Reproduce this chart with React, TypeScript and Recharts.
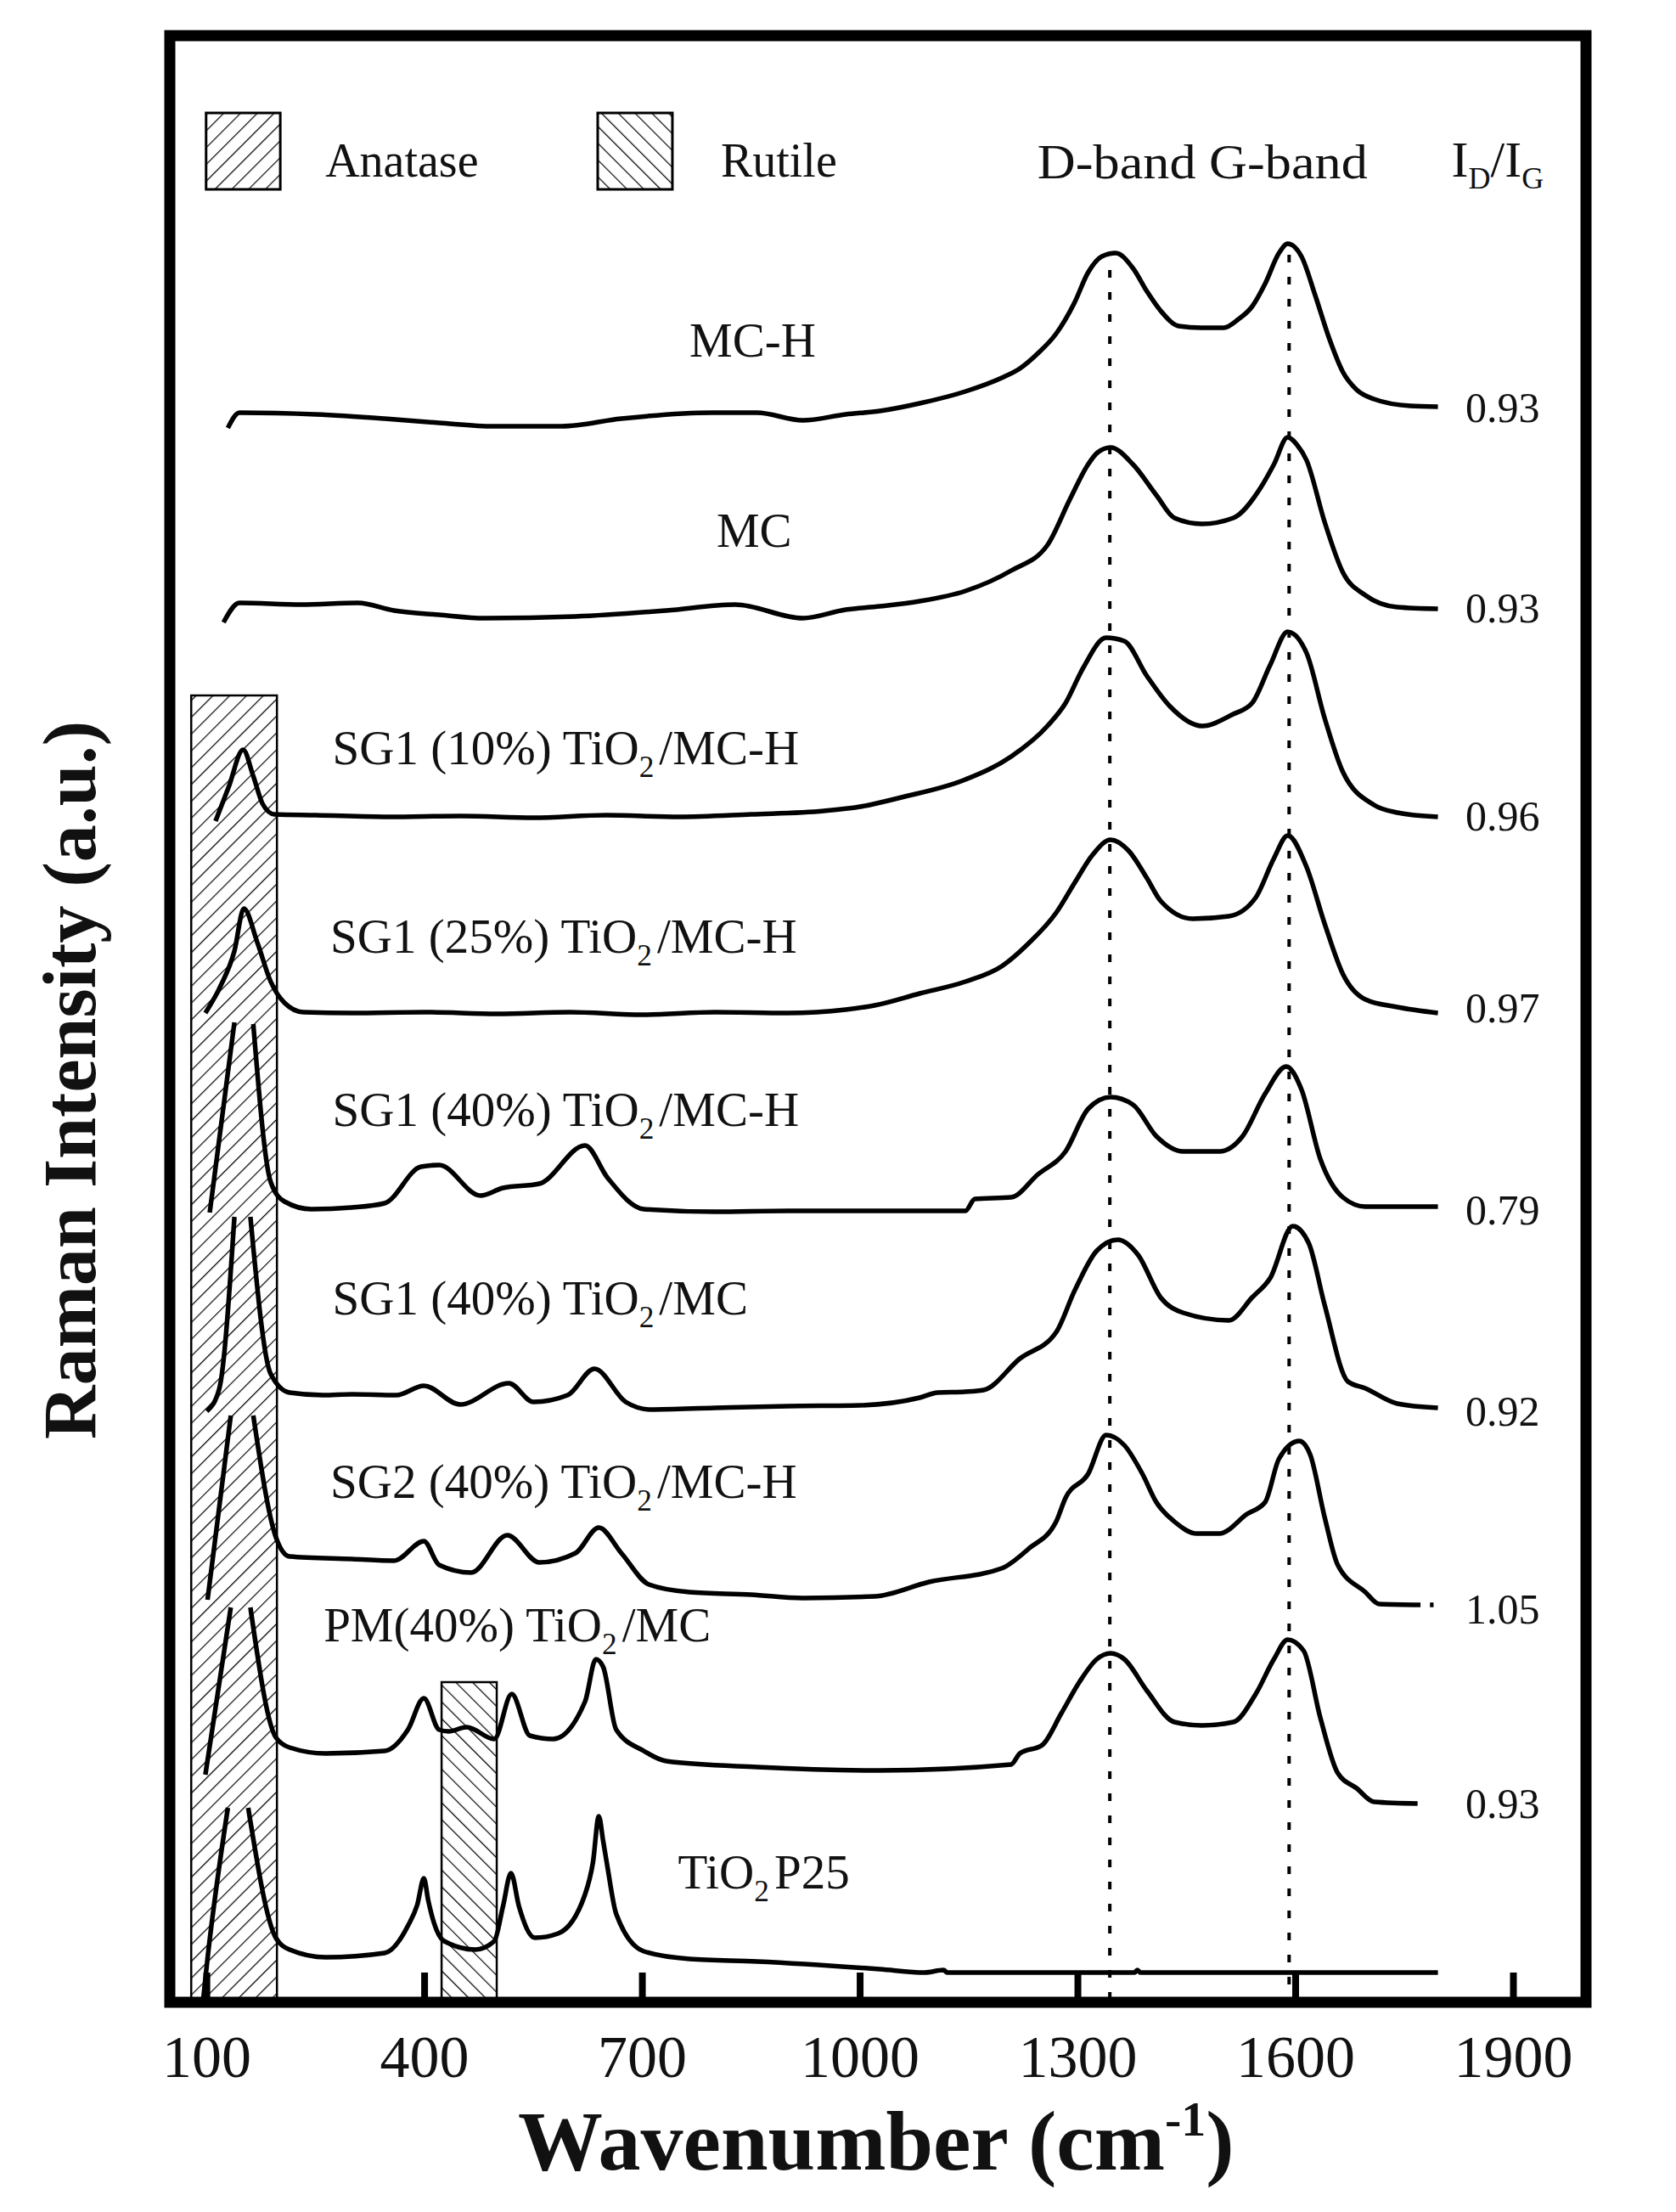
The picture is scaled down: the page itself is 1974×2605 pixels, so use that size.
import {
    LineChart,
    Line,
    XAxis,
    YAxis,
    ReferenceArea,
    ReferenceLine,
    ReferenceDot,
} from 'recharts';

type Pair = [number, number | null];

// wavenumber (cm-1), intensity (a.u., spectra stacked with offsets)
const X_TICKS = [100, 400, 700, 1000, 1300, 1600, 1900];

const MC_H: Pair[] = [
    [129, 185.4], [145, 187.2], [250, 187.0], [345, 186.5], [420, 186.0], [495, 185.6], [589, 185.6],
    [671, 186.5], [796, 187.2], [858, 187.2], [921, 186.3], [980, 187.0], [1027, 187.4], [1082, 188.3],
    [1145, 189.7], [1195, 191.3], [1220, 192.4], [1245, 194.2], [1270, 196.5], [1295, 200.1], [1314, 203.7],
    [1333, 205.6], [1352, 206.0], [1376, 204.2], [1395, 201.5], [1414, 199.2], [1439, 197.4], [1470, 197.2],
    [1501, 197.2], [1521, 198.2], [1540, 199.7], [1558, 202.4], [1577, 206.0], [1589, 207.1], [1608, 205.6],
    [1627, 201.0], [1646, 196.0], [1665, 192.0], [1684, 189.9], [1708, 188.8], [1758, 188.0], [1796, 187.9],
];

const MC: Pair[] = [
    [123, 162.5], [145, 164.8], [230, 164.6], [308, 164.8], [358, 163.9], [420, 163.4], [483, 163.0],
    [608, 163.2], [733, 163.9], [828, 164.6], [921, 163.0], [980, 164.0], [1027, 164.4], [1082, 165.0],
    [1145, 166.2], [1208, 168.6], [1258, 171.6], [1289, 177.0], [1314, 181.1], [1327, 182.5], [1345, 183.1],
    [1376, 181.1], [1408, 177.5], [1433, 174.8], [1471, 174.1], [1514, 174.8], [1552, 178.4], [1570, 181.1],
    [1589, 184.3], [1602, 183.4], [1615, 181.6], [1640, 174.3], [1665, 168.4], [1696, 165.7], [1740, 164.3],
    [1796, 164.1],
];

const SG1_10_MCH: Pair[] = [
    [112, 139.1], [130, 143.1], [150, 147.5], [164, 144.4], [177, 141.1], [193, 139.9], [250, 139.8],
    [350, 139.6], [450, 139.7], [550, 139.5], [650, 139.8], [750, 139.6], [850, 139.9], [950, 140.3],
    [1000, 140.8], [1057, 141.9], [1145, 144.0], [1208, 146.7], [1258, 150.3], [1283, 153.0], [1307, 157.1],
    [1339, 160.7], [1364, 160.3], [1395, 156.2], [1427, 152.6], [1471, 150.3], [1514, 151.7], [1540, 153.0],
    [1565, 157.5], [1589, 161.4], [1615, 158.9], [1640, 151.2], [1665, 144.9], [1708, 141.0], [1740, 140.1],
    [1796, 139.6],
];

const SG1_25_MCH: Pair[] = [
    [98, 116.5], [119, 119.7], [138, 123.8], [151, 128.8], [170, 124.7], [188, 120.2], [207, 117.7],
    [233, 116.6], [300, 116.5], [400, 116.6], [500, 116.4], [600, 116.6], [700, 116.3], [800, 116.6],
    [900, 116.5], [980, 116.9], [1020, 117.4], [1082, 118.8], [1145, 120.2], [1195, 122.0], [1232, 124.7],
    [1270, 128.3], [1296, 131.9], [1320, 135.1], [1345, 136.9], [1370, 135.6], [1395, 132.4], [1414, 129.7],
    [1458, 127.6], [1508, 127.9], [1545, 130.1], [1570, 134.7], [1589, 137.4], [1615, 133.7], [1640, 127.0],
    [1665, 121.1], [1696, 118.1], [1740, 117.2], [1796, 116.5],
];

// the strong anatase peak runs off the top, so its apex is left open (null)
const SG1_40_MCH: Pair[] = [
    [104, 93.0], [138, 115.4], [151, null], [164, 115.2], [188, 96.6], [207, 94.3], [244, 93.4],
    [300, 93.6], [345, 94.1], [395, 98.4], [420, 98.6], [477, 95.0], [508, 95.9], [558, 96.4],
    [621, 100.9], [652, 97.1], [702, 93.4], [800, 93.1], [900, 93.2], [1000, 93.2], [1145, 93.2],
    [1158, 94.6], [1208, 94.8], [1245, 97.5], [1283, 100.2], [1314, 105.2], [1345, 106.6], [1376, 105.7],
    [1408, 102.0], [1445, 100.2], [1495, 100.2], [1527, 102.0], [1558, 107.0], [1587, 110.2], [1608, 107.5],
    [1634, 99.3], [1665, 94.8], [1696, 93.7], [1796, 93.7],
];

const SG1_40_MC: Pair[] = [
    [100, 69.6], [117, 72.2], [138, 92.5], [149, null], [160, 92.5], [188, 74.0], [214, 71.8],
    [260, 71.5], [300, 71.6], [361, 71.5], [399, 72.6], [449, 70.4], [516, 72.9], [550, 70.7],
    [597, 71.5], [634, 74.6], [677, 70.7], [711, 69.8], [800, 70.0], [900, 70.2], [1000, 70.3],
    [1082, 71.2], [1107, 71.8], [1145, 71.9], [1170, 72.1], [1220, 75.8], [1270, 78.9], [1296, 83.9],
    [1326, 88.5], [1355, 89.8], [1383, 88.0], [1414, 83.0], [1445, 81.2], [1508, 80.3], [1540, 83.0],
    [1565, 85.3], [1596, 91.4], [1618, 89.4], [1640, 82.1], [1672, 73.1], [1696, 72.3], [1740, 70.5],
    [1796, 70.0],
];

const SG2_40_MCH: Pair[] = [
    [101, 47.4], [133, 69.1], [148, null], [164, 69.1], [195, 54.8], [214, 52.5], [300, 52.2],
    [358, 52.0], [399, 54.3], [420, 51.5], [464, 50.6], [514, 55.0], [558, 51.8], [608, 52.9],
    [640, 55.9], [671, 52.9], [709, 49.2], [765, 48.3], [850, 48.0], [921, 47.6], [1020, 47.8],
    [1095, 49.5], [1195, 51.1], [1232, 53.4], [1270, 56.6], [1283, 59.4], [1314, 62.2], [1339, 66.8],
    [1364, 65.6], [1389, 62.2], [1408, 58.9], [1433, 56.6], [1464, 55.2], [1495, 55.2], [1533, 57.5],
    [1558, 58.9], [1577, 64.0], [1605, 66.1], [1620, 64.5], [1640, 57.1], [1658, 51.5], [1696, 48.3],
    [1715, 46.9], [1772, 46.8], [1780, null], [1785, 46.8], [1790, 46.8],
];

const PM_40_MC: Pair[] = [
    [98, 26.8], [133, 46.5], [147, null], [160, 46.5], [195, 31.2], [214, 30.0], [264, 29.3],
    [345, 29.6], [377, 32.1], [399, 35.8], [420, 32.1], [433, 31.9], [458, 32.4], [496, 31.0],
    [520, 36.3], [545, 31.4], [577, 31.0], [621, 35.4], [636, 40.4], [646, 39.5], [664, 32.1],
    [702, 29.6], [733, 28.4], [858, 27.7], [1027, 27.3], [1208, 28.0], [1220, 29.3], [1251, 30.3],
    [1277, 34.0], [1302, 37.7], [1326, 40.4], [1345, 41.1], [1364, 40.4], [1395, 36.7], [1433, 33.0],
    [1471, 32.6], [1514, 33.0], [1545, 36.3], [1570, 40.4], [1589, 42.7], [1611, 41.4], [1634, 33.5],
    [1658, 27.0], [1684, 25.2], [1708, 23.6], [1768, 23.4],
];

const TIO2_P25: Pair[] = [
    [95, 0.3], [100, 4.4], [129, 22.9], [143, null], [157, 22.9], [195, 7.6], [214, 6.2],
    [264, 5.3], [345, 5.8], [377, 9.0], [390, 11.5], [399, 14.6], [405, 12.0], [411, 9.9], [427, 7.2],
    [470, 6.2], [496, 7.2], [508, 11.3], [519, 15.2], [530, 11.3], [552, 7.6], [584, 8.1],
    [621, 12.7], [632, 16.5], [640, 21.9], [646, 19.0], [652, 15.9], [664, 10.4], [702, 6.0],
    [765, 5.1], [858, 4.8], [1027, 3.9], [1089, 3.5], [1115, 3.8], [1120, 3.5], [1378, 3.5],
    [1382, 3.8], [1386, 3.5], [1796, 3.5],
];

const SPECTRA = [MC_H, MC, SG1_10_MCH, SG1_25_MCH, SG1_40_MCH, SG1_40_MC, SG2_40_MCH, PM_40_MC, TIO2_P25];

const SAMPLE_NAMES = [
    'MC-H',
    'MC',
    'SG1 (10%) TiO2/MC-H',
    'SG1 (25%) TiO2/MC-H',
    'SG1 (40%) TiO2/MC-H',
    'SG1 (40%) TiO2/MC',
    'SG2 (40%) TiO2/MC-H',
    'PM(40%) TiO2/MC',
    'TiO2 P25',
];

const ID_IG = ['0.93', '0.93', '0.96', '0.97', '0.79', '0.92', '1.05', '0.93'];

const D_BAND = 1344;
const G_BAND = 1591;
const ANATASE_RANGE = [78.5, 196.6];
const RUTILE_RANGE = [423.4, 499.4];

// ---- layout (data-space anchors for annotations) ----
const X_DOMAIN = [49, 2000];
const Y_DOMAIN = [0, 231.6];
const NAME_ANCHORS: [number, number][] = [
    [764.8, 193.8], [802.2, 171.4], [273.1, 145.8], [270.2, 123.6], [273.1, 103.2],
    [273.1, 81.0], [270.2, 59.4], [260.9, 42.5], [749, 13.4],
];
const RATIO_X = 1834;
const RATIO_Y = [186.1, 162.5, 138.0, 115.4, 91.6, 67.9, 44.6, 21.7];

const FONT = '"Liberation Serif", "Times New Roman", serif';
const INK = '#111';

function chem(name: string, size: number) {
    const i = name.indexOf('TiO2');
    if (i < 0) return name;
    const shift = size * 0.26;
    return [
        <tspan key="a">{name.slice(0, i)}TiO</tspan>,
        <tspan key="b" dy={shift} fontSize={size * 0.62}>2</tspan>,
        <tspan key="c" dy={-shift} dx={6}>{name.slice(i + 4).trimStart()}</tspan>,
    ];
}

function note(key: string, x: number, y: number, render: (cx: number, cy: number) => JSX.Element) {
    return (
        <ReferenceDot
            key={key}
            x={x}
            y={y}
            r={0}
            ifOverflow="visible"
            shape={(p: any) => render(p.cx, p.cy)}
        />
    );
}

function WaveTick({ x, y, payload }: any) {
    return (
        <g>
            <line x1={x} y1={y} x2={x} y2={y - 35} stroke="#000" strokeWidth={8} />
            <text x={x} y={y + 88} textAnchor="middle" fontFamily={FONT} fontSize={70} fill={INK}>
                {payload.value}
            </text>
        </g>
    );
}

export default function App() {
    return (
        <div style={{ position: 'absolute', left: 0, top: 0, width: 1974, height: 2605, background: '#fff' }}>
            <LineChart
                width={1974}
                height={2605}
                margin={{ top: 42, right: 106, bottom: 127, left: 200 }}
            >
                <defs>
                    <pattern id="hatch-anatase" patternUnits="userSpaceOnUse" width={14} height={14} patternTransform="rotate(45)">
                        <line x1={0} y1={0} x2={0} y2={14} stroke="#000" strokeWidth={2.4} />
                    </pattern>
                    <pattern id="hatch-rutile" patternUnits="userSpaceOnUse" width={14} height={14} patternTransform="rotate(-45)">
                        <line x1={0} y1={0} x2={0} y2={14} stroke="#000" strokeWidth={2.4} />
                    </pattern>
                </defs>
                <XAxis
                    type="number"
                    dataKey="v"
                    domain={X_DOMAIN}
                    allowDataOverflow
                    ticks={X_TICKS}
                    interval={0}
                    axisLine={false}
                    tickLine={false}
                    tickSize={0}
                    tickMargin={0}
                    height={120}
                    tick={(p: any) => <WaveTick {...p} />}
                />
                <YAxis type="number" dataKey="y" domain={Y_DOMAIN} allowDataOverflow hide />

                <ReferenceArea
                    x1={ANATASE_RANGE[0]} x2={ANATASE_RANGE[1]} y1={0} y2={153.9}
                    fill="url(#hatch-anatase)" fillOpacity={1} stroke="#000" strokeWidth={2.5}
                />
                <ReferenceArea
                    x1={RUTILE_RANGE[0]} x2={RUTILE_RANGE[1]} y1={0} y2={37.7}
                    fill="url(#hatch-rutile)" fillOpacity={1} stroke="#000" strokeWidth={2.5}
                />
                {/* legend swatches */}
                <ReferenceArea
                    x1={99} x2={201.2} y1={213.5} y2={222.5}
                    fill="url(#hatch-anatase)" fillOpacity={1} stroke="#000" strokeWidth={3}
                />
                <ReferenceArea
                    x1={638.5} x2={741.4} y1={213.5} y2={222.5}
                    fill="url(#hatch-rutile)" fillOpacity={1} stroke="#000" strokeWidth={3}
                />

                <ReferenceLine
                    segment={[{ x: D_BAND, y: 204 }, { x: D_BAND, y: 0 }]}
                    stroke="#000" strokeWidth={4} strokeDasharray="9 17"
                />
                <ReferenceLine
                    segment={[{ x: G_BAND, y: 205.8 }, { x: G_BAND, y: 0 }]}
                    stroke="#000" strokeWidth={4} strokeDasharray="9 17"
                />

                {SPECTRA.map((s, i) => (
                    <Line
                        key={SAMPLE_NAMES[i]}
                        data={s.map(([v, y]) => ({ v, y }))}
                        dataKey="y"
                        type="monotoneX"
                        stroke="#000"
                        strokeWidth={5.5}
                        strokeLinejoin="round"
                        dot={false}
                        activeDot={false}
                        connectNulls={false}
                        isAnimationActive={false}
                    />
                ))}

                {/* plot frame */}
                <ReferenceArea
                    x1={X_DOMAIN[0]} x2={X_DOMAIN[1]} y1={Y_DOMAIN[0]} y2={Y_DOMAIN[1]}
                    fill="none" stroke="#000" strokeWidth={13} ifOverflow="visible"
                />

                {SAMPLE_NAMES.map((name, i) =>
                    note(`name-${i}`, NAME_ANCHORS[i][0], NAME_ANCHORS[i][1], (cx, cy) => (
                        <text x={cx} y={cy} fontFamily={FONT} fontSize={57} fill={INK}>
                            {chem(name, 57)}
                        </text>
                    )),
                )}
                {ID_IG.map((r, i) =>
                    note(`ratio-${i}`, RATIO_X, RATIO_Y[i], (cx, cy) => (
                        <text x={cx} y={cy} fontFamily={FONT} fontSize={50} fill={INK}>{r}</text>
                    )),
                )}

                {note('lg-anatase', 263.2, 215.0, (cx, cy) => (
                    <text x={cx} y={cy} fontFamily={FONT} fontSize={56} fill={INK}>Anatase</text>
                ))}
                {note('lg-rutile', 808.0, 215.0, (cx, cy) => (
                    <text x={cx} y={cy} fontFamily={FONT} fontSize={56} fill={INK}>Rutile</text>
                ))}
                {note('lg-bands', 1244.2, 214.8, (cx, cy) => (
                    <text x={cx} y={cy} fontFamily={FONT} fontSize={58} fill={INK} textLength={389} lengthAdjust="spacingAndGlyphs">
                        D-band  G-band
                    </text>
                ))}
                {note('lg-ratio', 1814.7, 215.0, (cx, cy) => (
                    <text x={cx} y={cy} fontFamily={FONT} fontSize={60} fill={INK}>
                        I<tspan dy={14} fontSize={36}>D</tspan>
                        <tspan dy={-14}>/I</tspan>
                        <tspan dy={14} fontSize={36}>G</tspan>
                    </text>
                ))}

                {note('x-title', 1022, -19.7, (cx, cy) => (
                    <text x={cx} y={cy} textAnchor="middle" fontFamily={FONT} fontWeight="bold" fontSize={100} fill={INK}>
                        Wavenumber (cm<tspan dy={-40} fontSize={58}>-1</tspan>
                        <tspan dy={40}>)</tspan>
                    </text>
                ))}
                {note('y-title', -53.6, 108.6, (cx, cy) => (
                    <text
                        x={cx} y={cy} textAnchor="middle" fontFamily={FONT} fontWeight="bold" fontSize={88} fill={INK}
                        transform={`rotate(-90, ${cx}, ${cy})`}
                    >
                        Raman Intensity (a.u.)
                    </text>
                ))}
            </LineChart>
        </div>
    );
}
